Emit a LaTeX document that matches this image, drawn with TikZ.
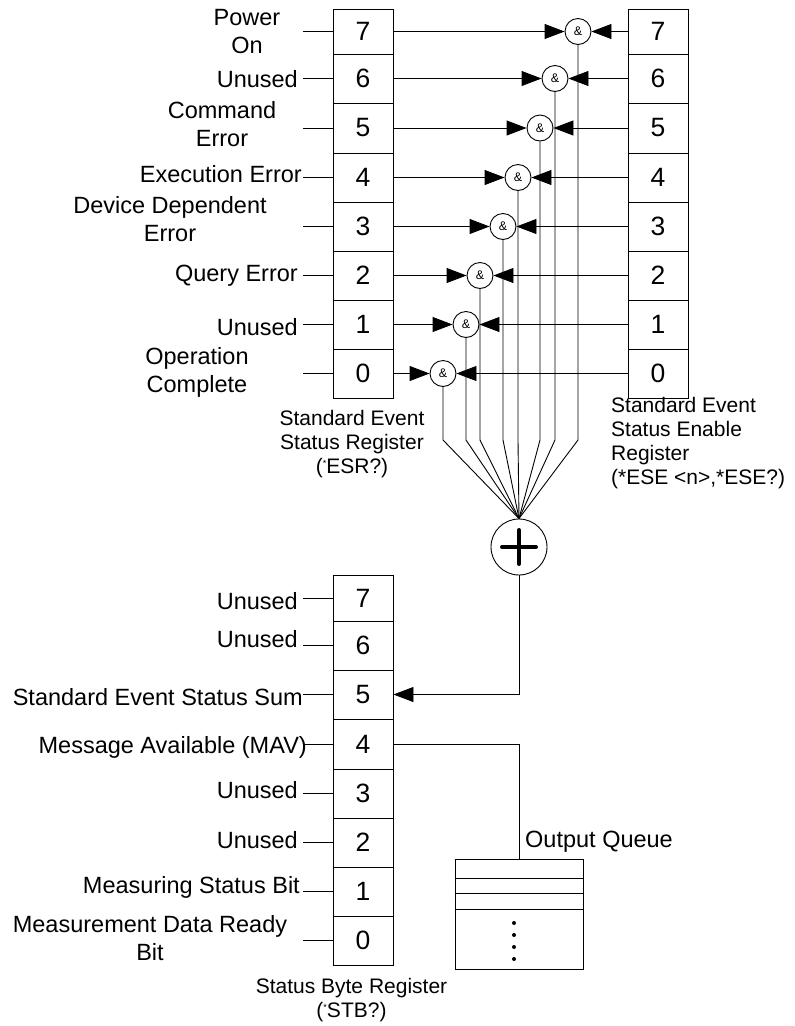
\documentclass[tikz,border=0pt]{standalone}
\usepackage{fontspec}
\setmainfont{Liberation Sans}
\usetikzlibrary{arrows.meta}
\newcommand{\smallstar}{\raisebox{7pt}{\fontsize{9}{9}\selectfont *}}
\begin{document}
\begin{tikzpicture}[x=1pt,y=-1pt,
  wire/.style={line width=0.9pt},
  tri/.style={-{Triangle[length=20pt,width=15pt]}},
  cell/.style={draw,line width=0.9pt,minimum width=60pt,inner sep=0pt,font=\fontsize{26.5}{26.5}\selectfont},
  gate/.style={draw,circle,minimum size=26pt,inner sep=0pt,line width=0.9pt,font=\fontsize{12.5}{12.5}\selectfont},
  lbl/.style={inner sep=0pt,font=\fontsize{23.5}{28.5}\selectfont},
  lblr/.style={lbl,anchor=base east},
  lblc/.style={lbl,anchor=north,align=center},
  capt/.style={inner sep=0pt,font=\fontsize{21}{24}\selectfont},
]
\useasboundingbox (0,0) rectangle (795,1026);

% Standard Event Status Register (left) and Enable Register (right)
\foreach \i/\ta/\tb in {7/9/54,6/54/103,5/103/153,4/153/202,3/202/251,2/251/300,1/300/349,0/349/398}{
  \node[cell,minimum height={\tb pt-\ta pt}] (e\i) at (363,{(\ta+\tb)/2}) {\i};
  \node[cell,minimum height={\tb pt-\ta pt}] (n\i) at (658,{(\ta+\tb)/2}) {\i};
  \draw[wire] (e\i.west) -- ++(-30,0);
}

% Status Byte Register
\foreach \i/\ta/\tb in {7/575/621,6/621/670,5/670/719,4/719/769,3/769/818,2/818/867,1/867/916,0/916/965}{
  \node[cell,minimum height={\tb pt-\ta pt}] (s\i) at (363,{(\ta+\tb)/2}) {\i};
  \draw[wire] (s\i.west) -- ++(-30,0);
}

% AND gates combining event bits with enable bits
\coordinate (fan) at (0,440);
\node[draw,circle,minimum size=56pt,inner sep=0pt,line width=0.9pt] (sum) at (519,547) {};
\draw[line width=4pt,line cap=round] ([xshift=-17pt]sum.center) -- ([xshift=17pt]sum.center);
\draw[line width=4pt,line cap=round] ([yshift=-17pt]sum.center) -- ([yshift=17pt]sum.center);

\foreach \i/\gx in {7/578,6/555,5/540,4/518,3/503,2/480,1/466,0/443}{
  \node[gate] (g\i) at (e\i -| \gx,0) {\&};
  \draw[wire,tri] (e\i.east) -- (g\i.west);
  \draw[wire,tri] (n\i.west) -- (g\i.east);
  \draw[wire] (g\i.south) -- (g\i.south |- fan) -- (sum.north);
}

% Summary bit into the status byte
\draw[wire,tri] (sum.south) |- (s5.east);

% Output queue
\node[draw,line width=0.9pt,minimum width=128pt,minimum height=110pt,inner sep=0pt,anchor=north] (queue) at (519,859) {};
\draw[wire] (s4.east) -| (queue.north);
\foreach \yy in {878,893,909}{
  \draw[wire] (queue.west |- 0,\yy) -- (queue.east |- 0,\yy);
}
\foreach \yy in {923,935,947,959}{
  \fill (514,\yy) circle (2pt);
}
\node[lbl,anchor=base west] (oq) at (525,847) {Output Queue};

% Event bit labels
\node[lblc] (l7) at (247,8.9) {Power\\On};
\node[lblr] (l6) at (298,87) {Unused};
\node[lblc] (l5) at (222,100.8) {Command\\Error};
\node[lblr] (l4) at (302,182) {Execution Error};
\node[lblc] (l3) at (170,195.8) {Device Dependent\\Error};
\node[lblr] (l2) at (298,281) {Query Error};
\node[lblr] (l1) at (298,335) {Unused};
\node[lblc] (l0) at (197,346.8) {Operation\\Complete};

% Status byte labels
\node[lblr] (m7) at (298,609) {Unused};
\node[lblr] (m6) at (298,647) {Unused};
\node[lblr] (m5) at (303,705) {Standard Event Status Sum};
\node[lblr] (m4) at (307,753) {Message Available (MAV)};
\node[lblr] (m3) at (298,798) {Unused};
\node[lblr] (m2) at (298,848) {Unused};
\node[lblr] (m1) at (300,893) {Measuring Status Bit};
\node[lblc] (m0) at (150,914.8) {Measurement Data Ready\\Bit};

% Register captions
\node[capt,anchor=north,align=center] (cesr) at (352,409.7) {Standard Event\\Status Register\\(\smallstar ESR?)};
\node[capt,anchor=north west,align=left] (cese) at (611,396.7) {Standard Event\\Status Enable\\Register\\(*ESE <n>,*ESE?)};
\node[capt,anchor=north,align=center] (cstb) at (351.5,977.7) {Status Byte Register\\(\smallstar STB?)};
\end{tikzpicture}
\end{document}
